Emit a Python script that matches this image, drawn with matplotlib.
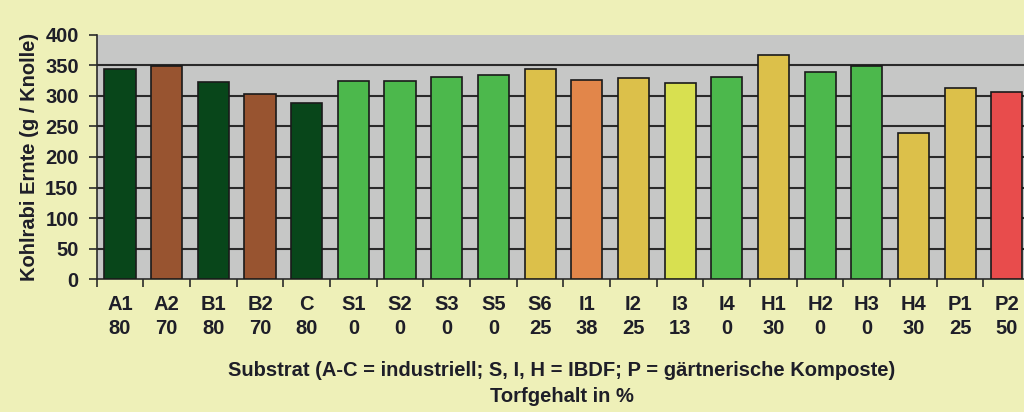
import matplotlib
matplotlib.use("Agg")
import matplotlib.pyplot as plt
from matplotlib.ticker import MultipleLocator, FixedLocator

substrates = ["A1", "A2", "B1", "B2", "C", "S1", "S2", "S3", "S5", "S6",
              "I1", "I2", "I3", "I4", "H1", "H2", "H3", "H4", "P1", "P2"]
torf = ["80", "70", "80", "70", "80", "0", "0", "0", "0", "25",
        "38", "25", "13", "0", "30", "0", "0", "30", "25", "50"]
ernte = [344, 349, 322, 303, 288, 324, 324, 331, 334, 344,
         326, 329, 321, 331, 367, 339, 349, 239, 313, 306]

DG, BR, GR, GO, OR, YG, RD = "#08461a", "#985430", "#4cb84c", "#dcc04a", "#e2864a", "#d8e050", "#e84c4c"
colors = [DG, BR, DG, BR, DG, GR, GR, GR, GR, GO,
          OR, GO, YG, GR, GO, GR, GR, GO, GO, RD]

plt.rcParams['font.family'] = ['Liberation Sans', 'DejaVu Sans']
txt = "#1e1e28"
FS = 14.5

fig = plt.figure(figsize=(10.24, 4.12), dpi=100)
fig.patch.set_facecolor("#eef0b8")
ax = fig.add_axes([96.7/1024, 1-279.3/412, 933.4/1024, 244.6/412])
ax.set_facecolor("#c6c7c6")

x = list(range(len(substrates)))
ax.bar(x, ernte, width=0.667, color=colors, edgecolor="#1a1a1a", linewidth=1.2, zorder=3)

ax.set_xlim(-0.5, len(substrates) - 0.5)
ax.set_ylim(0, 400)
ax.yaxis.set_major_locator(MultipleLocator(50))
for v in range(50, 400, 50):
    ax.axhline(v, color="#2a2a2a", linewidth=1.5, zorder=1)

ax.spines["top"].set_visible(False)
ax.spines["right"].set_visible(False)
ax.spines["left"].set_color("#2a2a2a")
ax.spines["bottom"].set_color("#2a2a2a")
ax.spines["left"].set_linewidth(1.2)
ax.spines["bottom"].set_linewidth(1.2)

ax.set_xticks(x)
ax.set_xticklabels([f"{s}\n{t}" for s, t in zip(substrates, torf)],
                   fontsize=FS, fontweight="bold", color=txt, linespacing=1.35)
ax.xaxis.set_minor_locator(FixedLocator([i - 0.5 for i in range(len(substrates) + 1)]))
ax.tick_params(axis="x", which="major", length=0, pad=11)
ax.tick_params(axis="x", which="minor", length=6, width=1.2, color="#2a2a2a", direction="out")
ax.tick_params(axis="y", length=6, width=1.2, color="#2a2a2a", labelsize=FS, labelcolor=txt, pad=7)
for lab in ax.get_yticklabels():
    lab.set_fontweight("bold")

ax.set_ylabel("Kohlrabi Ernte (g / Knolle)", fontsize=FS, fontweight="bold", color=txt, labelpad=4)
fig.text(562/1024, 1-371/412, "Substrat (A-C = industriell; S, I, H = IBDF; P = gärtnerische Komposte)",
         ha="center", va="center", fontsize=FS, fontweight="bold", color=txt)
fig.text(562/1024, 1-396/412, "Torfgehalt in %", ha="center", va="center",
         fontsize=FS, fontweight="bold", color=txt)

fig.savefig("out.png", dpi=100, facecolor=fig.get_facecolor())
